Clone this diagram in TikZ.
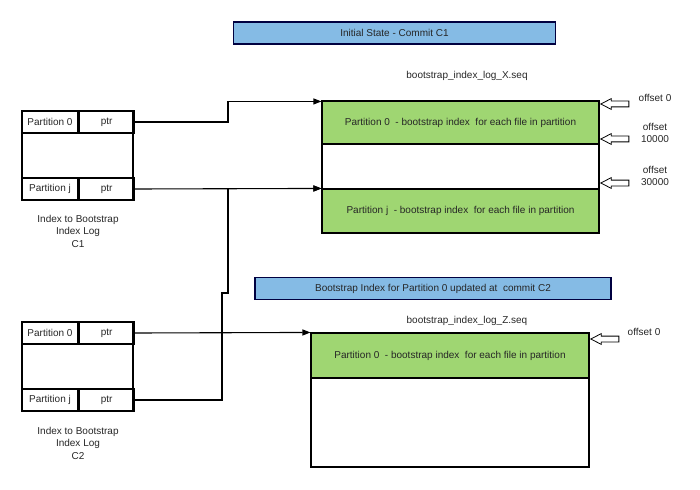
\documentclass[tikz,border=0pt]{standalone}
\usepackage{fontspec}
\setmainfont{Liberation Sans}
\usetikzlibrary{arrows.meta,shapes.arrows,positioning}
\definecolor{titleblue}{HTML}{85BBE5}
\definecolor{partgreen}{HTML}{9FD672}

\begin{document}
\begin{tikzpicture}[x=1pt,y=-1pt,line width=1.1pt,>={Triangle[length=8pt,width=6pt]},
		every node/.style={font=\fontsize{10}{12.5}\selectfont,text=black!85},
		title node/.style={draw=black!75!blue,fill=titleblue,minimum height=22,inner sep=0},
		cell node/.style={draw,minimum width=56,minimum height=22,inner sep=0},
		ptr node/.style={draw,minimum width=55,minimum height=22,inner sep=0},
		frame node/.style={draw,inner sep=0},
		part node/.style={draw,fill=partgreen,inner sep=0},
		offset node/.style={single arrow,draw,fill=white,shape border rotate=180,
			minimum height=28,minimum width=10,inner sep=2.5pt,
			single arrow head extend=2.5pt,single arrow tip angle=55,line width=0.8pt}]
	\useasboundingbox (0,0) rectangle (700,489);

	% titles
	\node[title node,minimum width=322] (title1) at (394.5,33) {Initial State - Commit C1};
	\node[title node,minimum width=356] (title2) at (433,288.5) {Bootstrap Index for Partition 0 updated at \ commit C2};

	% index tables
	\node[frame node,minimum width=111,minimum height=89] (t1) at (77.5,155.5) {};
	\node[cell node] (t1p0) at (50,122) {Partition 0};
	\node[ptr node] (t1p0ptr) [right=0pt of t1p0] {ptr};
	\node[cell node] (t1pj) at (50,189) {Partition j};
	\node[ptr node] (t1pjptr) [right=0pt of t1pj] {ptr};
	\node[align=center] (t1label) at (78,231) {Index to Bootstrap\\Index Log\\C1};

	\node[frame node,minimum width=111,minimum height=89] (t2) at (77.5,366.5) {};
	\node[cell node] (t2p0) at (50,333) {Partition 0};
	\node[ptr node] (t2p0ptr) [right=0pt of t2p0] {ptr};
	\node[cell node] (t2pj) at (50,400) {Partition j};
	\node[ptr node] (t2pjptr) [right=0pt of t2pj] {ptr};
	\node[align=center] (t2label) at (78,443) {Index to Bootstrap\\Index Log\\C2};

	% bootstrap index log X
	\node (xname) at (467,76) {bootstrap\_index\_log\_X.seq};
	\node[frame node,minimum width=277,minimum height=132] (x) at (460.5,167) {};
	\node[part node,minimum width=277,minimum height=43] (xp0) at (460.5,122.5) {Partition 0 \ - bootstrap index \ for each file in partition};
	\node[part node,minimum width=277,minimum height=44] (xpj) at (460.5,211) {Partition j \ - bootstrap index \ for each file in partition};
	\node[offset node,anchor=tip] (xo0) at (600,104) {};
	\node[offset node,anchor=tip] (xo1) at (600,139) {};
	\node[offset node,anchor=tip] (xo2) at (600,183) {};
	\node (xl0) at (655,98) {offset 0};
	\node[align=center] (xl1) at (655,133) {offset\\10000};
	\node[align=center] (xl2) at (655,176) {offset\\30000};

	% bootstrap index log Z
	\node (zname) at (467,321) {bootstrap\_index\_log\_Z.seq};
	\node[frame node,minimum width=278,minimum height=134] (z) at (450,400) {};
	\node[part node,minimum width=278,minimum height=45] (zp0) at (450,355.5) {Partition 0 \ - bootstrap index \ for each file in partition};
	\node[offset node,anchor=tip] (zo0) at (590,339) {};
	\node (zl0) at (644,332) {offset 0};

	% pointers
	\draw[->] (t1p0ptr.east) -- (228,122) |- ([yshift=-1pt]xp0.north west);
	\draw[->] (t1pjptr.east) -- (xpj.north west);
	\draw[->] (t2pjptr.east) -| (222,293) -- (228,293) |- (xpj.north west);
	\draw[->] (t2p0ptr.east) -- (zp0.north west);
\end{tikzpicture}
\end{document}
